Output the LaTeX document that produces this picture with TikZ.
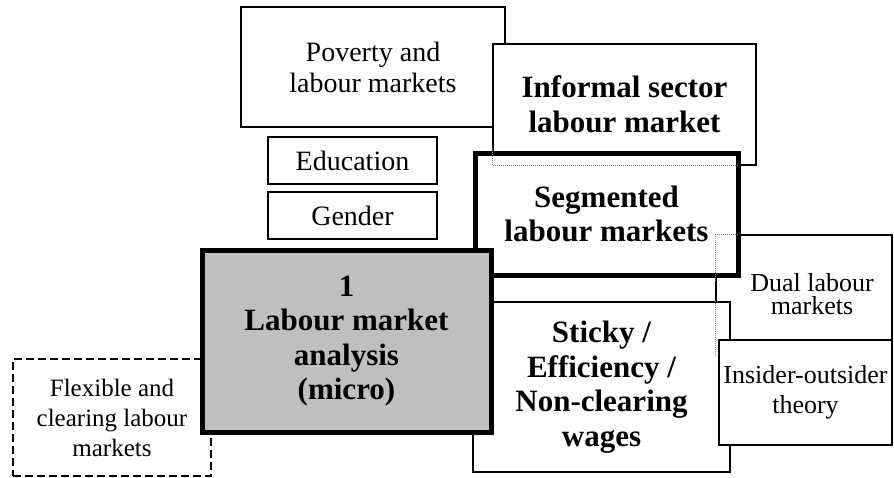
\documentclass[tikz,border=0pt]{standalone}
\usepackage{fontspec}
\setmainfont{Liberation Serif}
\begin{document}
\begin{tikzpicture}[x=1pt,y=-1pt,
  box/.style={draw, line width=1.5pt, fill=white, align=center, inner sep=0pt,
    font=\fontsize{28}{31}\selectfont},
  midbox/.style={box, font=\fontsize{26}{30}\selectfont},
  boldbox/.style={box, font=\fontsize{31}{34.5}\selectfont\bfseries},
  thickbox/.style={boldbox, line width=5pt},
  dashbox/.style={box, dash pattern=on 8pt off 4pt, font=\fontsize{25}{30}\selectfont},
  hidden/.style={draw=gray, line width=0.8pt, dash pattern=on 1pt off 1pt},
  plain/.style={inner sep=0pt, align=center, font=\fontsize{26}{23.5}\selectfont}
]
\useasboundingbox (0,0) rectangle (894,477);

\node[dashbox, minimum width=198pt, minimum height=117pt] (flex) at (112,417.5)
  {Flexible and\\clearing labour\\markets};
\node[box, minimum width=264pt, minimum height=120pt] (pov) at (373,67)
  {Poverty and\\labour markets};
\node[boldbox, minimum width=263pt, minimum height=121pt] (inf) at (624.5,104.5)
  {Informal sector\\labour market};
\node[box, minimum width=169pt, minimum height=47pt] (edu) at (352.5,160.5) {Education};
\node[box, minimum width=169pt, minimum height=47pt] (gen) at (352.5,215.5) {Gender};
\node[box, minimum width=176pt, minimum height=120pt] (dual) at (804,295) {};
\node[plain] (duallab) at (812,294) {Dual labour\\markets};
\node[thickbox, minimum width=263pt, minimum height=122pt] (seg) at (606.5,214)
  {Segmented\\labour markets};
\node[boldbox, minimum width=257pt, minimum height=170pt] (sticky) at (601.5,387)
  {Sticky /\\Efficiency /\\Non-clearing\\wages};
\node[midbox, minimum width=173pt, minimum height=105pt] (ins) at (805.5,392.5)
  {Insider-outsider\\theory};
\node[thickbox, fill=black!25, minimum width=289pt, minimum height=182pt] (main) at (346.5,341)
  {1\\Labour market\\analysis\\(micro)};

% hidden edges
\draw[hidden] ([yshift=2.5pt]inf.west |- seg.north) -- (inf.south west)
  -- ([xshift=-2.5pt]inf.south -| seg.east);
\draw[hidden] ([xshift=-2.5pt]dual.north west -| seg.east) -- (dual.north west)
  -- ([yshift=-2.5pt]dual.west |- seg.south);
\draw[hidden] ([yshift=0.75pt]dual.west |- sticky.north) -- (dual.south west);
\end{tikzpicture}
\end{document}
